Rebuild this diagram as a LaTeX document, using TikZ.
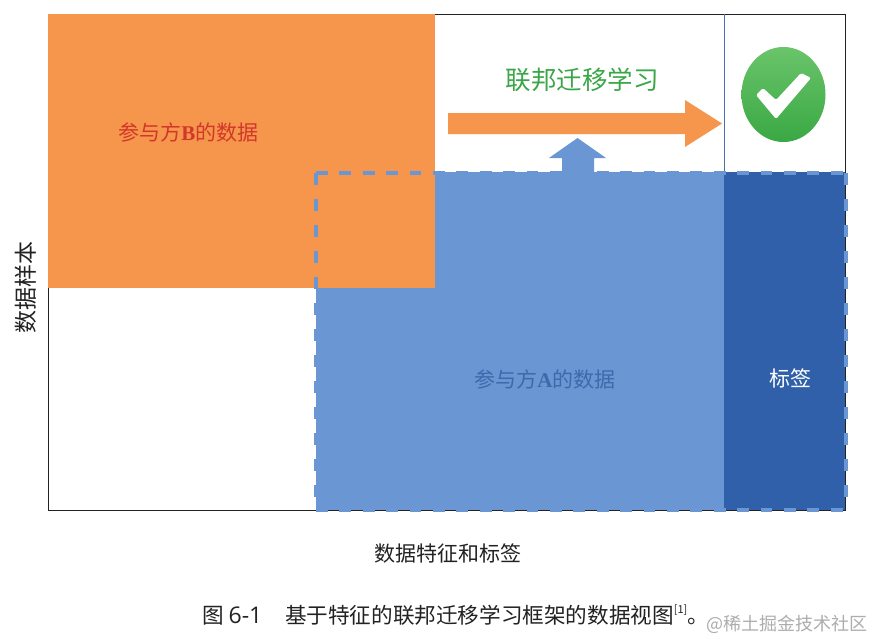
\documentclass[tikz,border=0pt]{standalone}
\usepackage{fontspec}
\setmainfont{Noto Sans CJK SC}
\newfontfamily\latinserif{Liberation Serif}[BoldFont={Liberation Serif Bold}]
\newfontfamily\latinsans{Open Sans}
\usetikzlibrary{shapes.geometric}
\definecolor{orangefill}{HTML}{F6954C}
\definecolor{bluefill}{HTML}{6A96D3}
\definecolor{darkblue}{HTML}{2F60A9}
\definecolor{textblue}{HTML}{3F69AC}
\definecolor{lineblue}{HTML}{4A72AE}
\definecolor{redtext}{HTML}{D2372B}
\definecolor{greentext}{HTML}{3AA648}
\definecolor{ink}{HTML}{222222}
\definecolor{checktop}{HTML}{6AC46A}
\definecolor{checkbot}{HTML}{3AA844}
\tikzset{
  txt/.style={inner sep=0pt,font=\fontsize{#1}{#1}\selectfont},
  txt/.default=21pt,
  dashedge/.style={bluefill,line width=3.8pt},
}
\begin{document}
\begin{tikzpicture}[x=1pt,y=-1pt]
\useasboundingbox[fill=white] (0,0) rectangle (873,640);
% frame
\draw[ink,line width=1pt] (48,14) rectangle (845,510);
\draw[lineblue,line width=0.9pt] (724,14) -- (724,172);
% regions
\fill[orangefill] (48,14) rectangle (435,288);
\fill[bluefill] (316,172) rectangle (845,510);
\fill[orangefill] (316,172) rectangle (435,288);
\fill[darkblue] (724,172) rectangle (845,510);
\draw[dashedge,dash pattern=on 11.7pt off 11.7pt] (316,173) -- (846,173);
\draw[dashedge,dash pattern=on 11.7pt off 11.7pt] (316,510) -- (846,510);
\draw[dashedge,dash pattern=on 12pt off 14pt] (316,173) -- (316,510);
\draw[dashedge,dash pattern=on 12pt off 14pt] (846,173) -- (846,510);
% arrows
\fill[bluefill] (577.5,138) -- (606,158) -- (594,158) -- (594,174) -- (562,174) -- (562,158) -- (549,158) -- cycle;
\fill[orangefill] (448,113) -- (685,113) -- (685,100) -- (722,123.5) -- (685,147) -- (685,134) -- (448,134) -- cycle;
% check
\shade[top color=checktop,bottom color=checkbot] (783.5,94.5) ellipse [x radius=42,y radius=47.5];
\fill[white,rounded corners=1.5pt] (756,95) -- (763,88) -- (776,100) -- (801,73) -- (811,78) -- (776,119) -- cycle;
% labels
\node[txt=25.5pt,text=greentext] (fl) at (582,80) {联邦迁移学习};
\node[txt=21pt,text=redtext] (b) at (188.5,132.5) {参与方{\latinserif\bfseries B}的数据};
\node[txt=21pt,text=textblue] (a) at (545,379) {参与方{\latinserif\bfseries A}的数据};
\node[txt=21pt,text=white] (tag) at (790.5,378) {标签};
\node[txt=23pt,text=ink,rotate=90] (yl) at (26,287) {数据样本};
\node[txt=21pt,text=ink] (xl) at (448,553) {数据特征和标签};
\node[txt=21.6pt,text=ink,anchor=west] (cap) at (202,615) {图 {\fontsize{23pt}{23pt}\selectfont\latinsans 6-1}\hspace{1.05em}基于特征的联邦迁移学习框架的数据视图\raisebox{0.45em}{\fontsize{11pt}{11pt}\selectfont [1]}。};
\node[txt=18pt,text=black!32,anchor=east] (wm) at (868,624) {@稀土掘金技术社区};
\end{tikzpicture}
\end{document}
